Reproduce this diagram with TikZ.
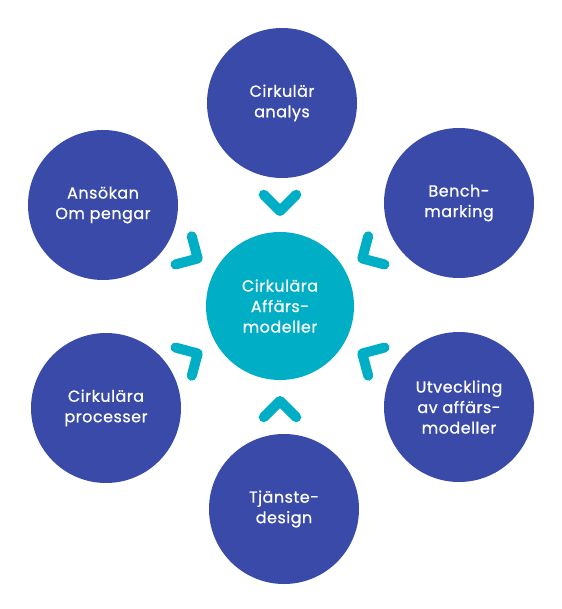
\documentclass[tikz,border=0pt]{standalone}
\usepackage{fontspec}
\setmainfont{Poppins}
\newfontfamily\labelfont[FakeBold=0.7,LetterSpace=3]{Poppins}
\usetikzlibrary{calc}
\definecolor{cblue}{HTML}{3A4AA8}
\definecolor{cteal}{HTML}{00AEC5}
\tikzset{
  outer/.style={circle, fill=cblue, draw=none, minimum size=150pt, inner sep=0pt, text=white, align=center, font=\labelfont\fontsize{16}{20.5}\selectfont},
  hub/.style={circle, fill=cteal, draw=none, minimum size=148pt, inner sep=0pt, text=white, align=center, font=\labelfont\fontsize{16}{20.5}\selectfont},
  chev/.style={draw=cteal, line width=10pt, line cap=round, line join=round}
}
\begin{document}
\begin{tikzpicture}[x=1pt,y=-1pt]
\useasboundingbox (0,0) rectangle (561,609);
\node[hub] (c) at (280,306) {Cirkulära\\Affärs-\\modeller};
\node[outer] (n1) at (282,103) {Cirkulär\\analys};
\node[outer] (n2) at (459,203) {Bench-\\marking};
\node[outer] (n3) at (459,407) {Utveckling\\av affärs-\\modeller};
\node[outer] (n4) at (284,509) {Tjänste-\\design};
\node[outer] (n5) at (106,408) {Cirkulära\\processer};
\node[outer] (n6) at (103,205) {Ansökan\\Om pengar};
\foreach \a in {90,30,-30,-90,210,150}{
  \coordinate (v) at ($(c)+(\a:95pt)$);
  \draw[chev] ($(v)+(\a+45:23pt)$) -- (v) -- ($(v)+(\a-45:23pt)$);
}
\end{tikzpicture}
\end{document}
